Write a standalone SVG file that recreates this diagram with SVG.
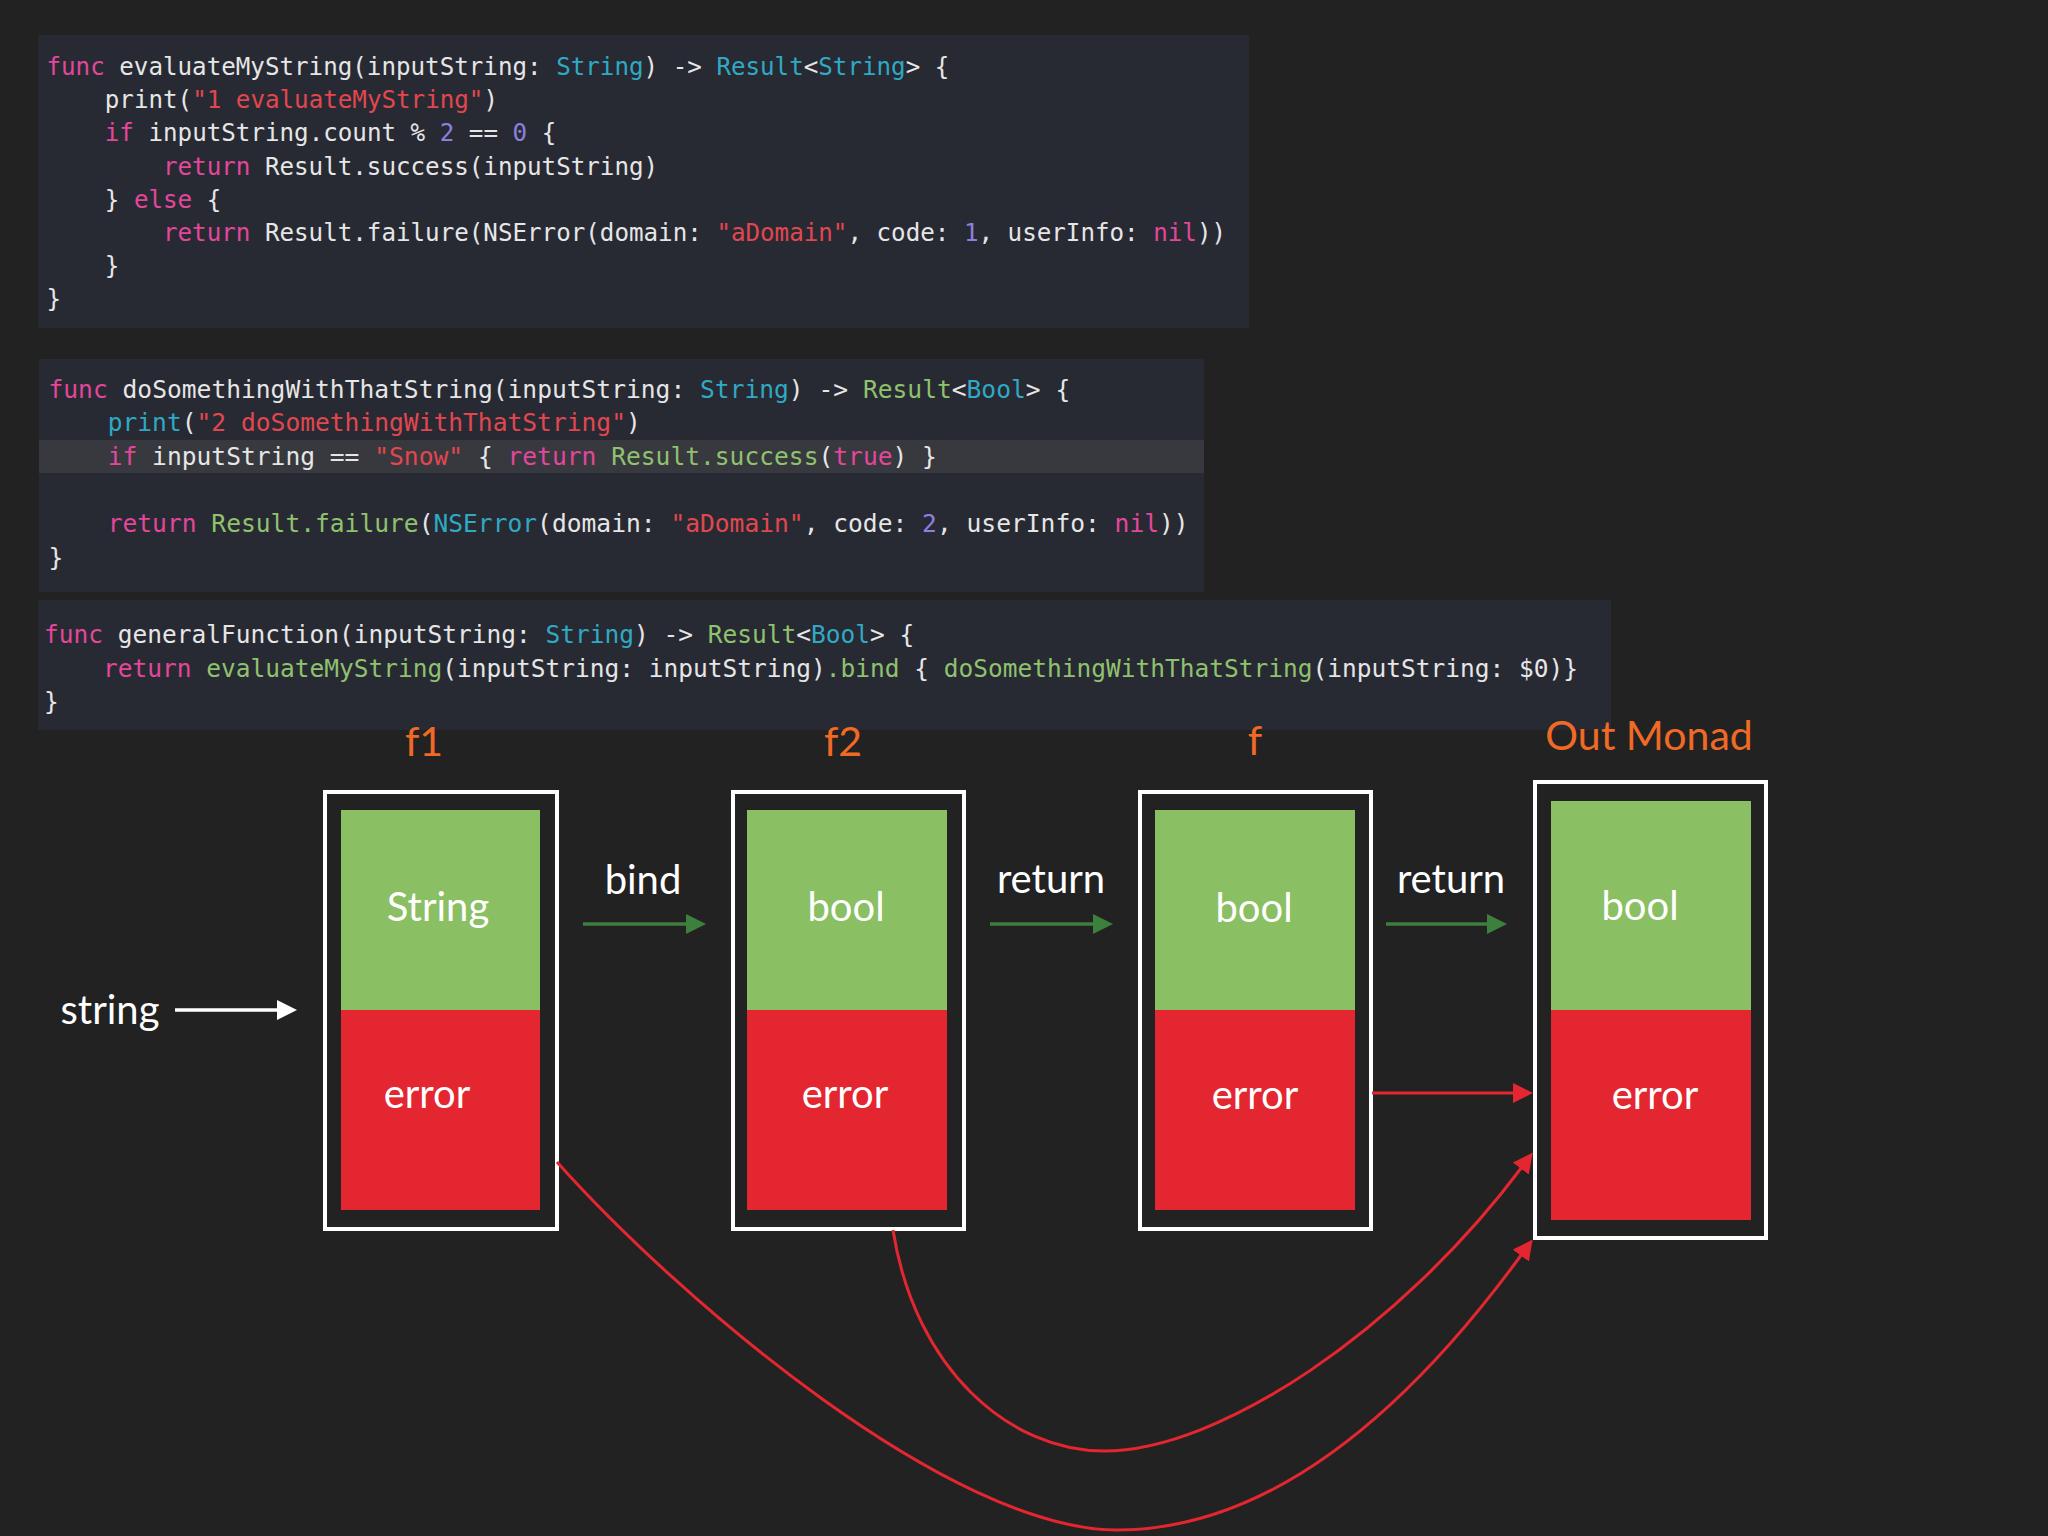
<svg xmlns="http://www.w3.org/2000/svg" width="2048" height="1536" viewBox="0 0 2048 1536">
<style>
.codebg{fill:#282a33}
.hl{fill:#38393e}
.mono{font-family:"DejaVu Sans Mono","Liberation Mono",monospace;fill:#e6e6e6}
.k{fill:#e2479b}
.t{fill:#2fa9c4}
.s{fill:#e2474f}
.n{fill:#8c80de}
.g{fill:#8fc26e}
.frame{fill:none;stroke:#ffffff;stroke-width:4}
.ok{fill:#8bbf63}
.err{fill:#e3262f}
.lbl{font-family:Lato,"Open Sans",sans-serif;font-size:40px;fill:#ffffff;text-anchor:middle}
.fn{font-family:Lato,"Open Sans",sans-serif;font-size:41px;fill:#f06a25;text-anchor:middle}
.wline{stroke:#ffffff;stroke-width:3.5;fill:none}
.gline{stroke:#3d7f3c;stroke-width:3.5;fill:none}
.rline{stroke:#e3262f;stroke-width:3;fill:none}
</style>
<defs>
<marker id="hw" markerUnits="userSpaceOnUse" markerWidth="20" markerHeight="20" refX="2" refY="10" orient="auto"><path d="M0,0 L20,10 L0,20 z" fill="#ffffff"/></marker>
<marker id="hg" markerUnits="userSpaceOnUse" markerWidth="20" markerHeight="20" refX="2" refY="10" orient="auto"><path d="M0,0 L20,10 L0,20 z" fill="#3d7f3c"/></marker>
<marker id="hr" markerUnits="userSpaceOnUse" markerWidth="20" markerHeight="20" refX="2" refY="10" orient="auto"><path d="M0,0 L20,10 L0,20 z" fill="#e3262f"/></marker>
</defs>
<rect x="0" y="0" width="2048" height="1536" fill="#222222"/>

<g id="code1">
<rect class="codebg" x="38" y="35" width="1211" height="293"/>
<g class="mono" font-size="24.2" xml:space="preserve">
<text x="46.5" y="75"><tspan class="k">func</tspan> evaluateMyString(inputString: <tspan class="t">String</tspan>) -&gt; <tspan class="t">Result</tspan>&lt;<tspan class="t">String</tspan>&gt; {</text>
<text x="104.8" y="108.2">print(<tspan class="s">"1 evaluateMyString"</tspan>)</text>
<text x="104.8" y="141.4"><tspan class="k">if</tspan> inputString.count % <tspan class="n">2</tspan> == <tspan class="n">0</tspan> {</text>
<text x="163" y="174.6"><tspan class="k">return</tspan> Result.success(inputString)</text>
<text x="104.8" y="207.8">} <tspan class="k">else</tspan> {</text>
<text x="163" y="241"><tspan class="k">return</tspan> Result.failure(NSError(domain: <tspan class="s">"aDomain"</tspan>, code: <tspan class="n">1</tspan>, userInfo: <tspan class="k">nil</tspan>))</text>
<text x="104.8" y="274.2">}</text>
<text x="46.5" y="307.4">}</text>
</g>
</g>

<g id="code2">
<rect class="codebg" x="39" y="359" width="1165" height="233"/>
<rect class="hl" x="39" y="440" width="1165" height="33"/>
<g class="mono" font-size="24.6" xml:space="preserve">
<text x="48.5" y="397.5"><tspan class="k">func</tspan> doSomethingWithThatString(inputString: <tspan class="t">String</tspan>) -&gt; <tspan class="g">Result</tspan>&lt;<tspan class="t">Bool</tspan>&gt; {</text>
<text x="107.7" y="431.2"><tspan class="t">print</tspan>(<tspan class="s">"2 doSomethingWithThatString"</tspan>)</text>
<text x="107.7" y="465"><tspan class="k">if</tspan> inputString == <tspan class="s">"Snow"</tspan> { <tspan class="k">return</tspan> <tspan class="g">Result.success</tspan>(<tspan class="k">true</tspan>) }</text>
<text x="107.7" y="532.3"><tspan class="k">return</tspan> <tspan class="g">Result.failure</tspan>(<tspan class="t">NSError</tspan>(domain: <tspan class="s">"aDomain"</tspan>, code: <tspan class="n">2</tspan>, userInfo: <tspan class="k">nil</tspan>))</text>
<text x="48.5" y="566">}</text>
</g>
</g>

<g id="code3">
<rect class="codebg" x="38" y="600" width="1573" height="130"/>
<g class="mono" font-size="24.5" xml:space="preserve">
<text x="44" y="643"><tspan class="k">func</tspan> generalFunction(inputString: <tspan class="t">String</tspan>) -&gt; <tspan class="g">Result</tspan>&lt;<tspan class="t">Bool</tspan>&gt; {</text>
<text x="103" y="676.5"><tspan class="k">return</tspan> <tspan class="g">evaluateMyString</tspan>(inputString: inputString)<tspan class="g">.bind</tspan> { <tspan class="g">doSomethingWithThatString</tspan>(inputString: $0)}</text>
<text x="44" y="710">}</text>
</g>
</g>

<g id="f1">
<text class="fn" x="424" y="756">f1</text>
<rect class="frame" x="325" y="792" width="232" height="437"/>
<rect class="ok" x="341" y="810" width="199" height="200"/>
<rect class="err" x="341" y="1010" width="199" height="200"/>
<text class="lbl" x="438" y="921">String</text>
<text class="lbl" x="427" y="1108">error</text>
</g>

<g id="f2">
<text class="fn" x="843" y="756">f2</text>
<rect class="frame" x="733" y="792" width="231" height="437"/>
<rect class="ok" x="747" y="810" width="200" height="200"/>
<rect class="err" x="747" y="1010" width="200" height="200"/>
<text class="lbl" x="846" y="921">bool</text>
<text class="lbl" x="845" y="1108">error</text>
</g>

<g id="f">
<text class="fn" x="1255" y="755">f</text>
<rect class="frame" x="1140" y="792" width="231" height="437"/>
<rect class="ok" x="1155" y="810" width="200" height="200"/>
<rect class="err" x="1155" y="1010" width="200" height="200"/>
<text class="lbl" x="1254" y="922">bool</text>
<text class="lbl" x="1255" y="1109">error</text>
</g>

<g id="out">
<text class="fn" x="1649" y="750">Out Monad</text>
<rect class="frame" x="1535" y="782" width="231" height="456"/>
<rect class="ok" x="1551" y="801" width="200" height="209"/>
<rect class="err" x="1551" y="1010" width="200" height="210"/>
<text class="lbl" x="1640" y="920">bool</text>
<text class="lbl" x="1655" y="1109">error</text>
</g>

<g id="input">
<text class="lbl" x="110" y="1024">string</text>
</g>

<g id="connectors">
<line class="wline" x1="175" y1="1010" x2="279" y2="1010" marker-end="url(#hw)"/>
<text class="lbl" x="643" y="894">bind</text>
<line class="gline" x1="583" y1="924" x2="688" y2="924" marker-end="url(#hg)"/>
<text class="lbl" x="1051" y="893">return</text>
<line class="gline" x1="990" y1="924" x2="1095" y2="924" marker-end="url(#hg)"/>
<text class="lbl" x="1451" y="893">return</text>
<line class="gline" x1="1386" y1="924" x2="1489" y2="924" marker-end="url(#hg)"/>
<line class="rline" x1="1372" y1="1093" x2="1515" y2="1093" marker-end="url(#hr)"/>
<path class="rline" d="M557,1162 C680,1300 950,1530 1117,1530 C1290,1530 1430,1380 1522,1254" marker-end="url(#hr)"/>
<path class="rline" d="M893,1230 C915,1370 1010,1451 1104,1451 C1220,1451 1400,1330 1522,1167" marker-end="url(#hr)"/>
</g>
</svg>
